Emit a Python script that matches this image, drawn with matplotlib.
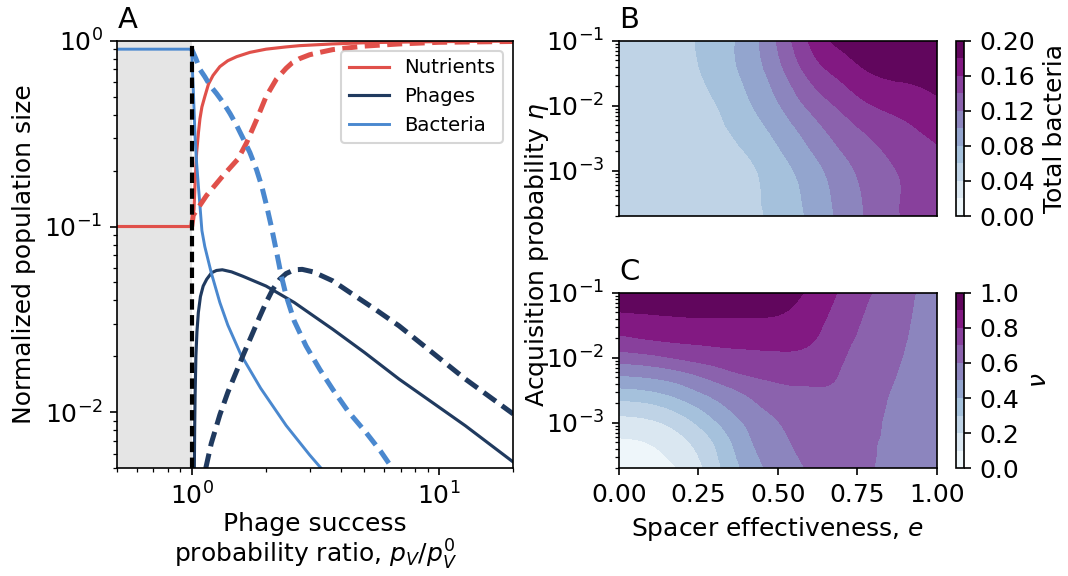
import matplotlib
matplotlib.use("Agg")
import matplotlib.pyplot as plt
import matplotlib.tri as mtri
import numpy as np

# Colores de las curvas
RED = "#e0504a"
NAVY = "#203a5f"
BLUE = "#4a88cf"

# Panel A: valores (x = p_V/p_V^0)
nutr_solid_x = [0.5, 1.0, 1.01, 1.022, 1.031, 1.047, 1.065, 1.08, 1.1, 1.13, 1.17, 1.22, 1.3, 1.4, 1.52,
                1.72, 2.0, 2.4, 2.73, 3.7, 5.07, 8, 12, 20]
nutr_solid_y = [0.1, 0.1, 0.11, 0.124, 0.166, 0.25, 0.32, 0.38, 0.44, 0.5, 0.585, 0.65, 0.725, 0.78, 0.82,
                0.865, 0.9, 0.925, 0.94, 0.96, 0.975, 0.985, 0.99, 0.995]
nutr_dash_x = [1.0, 1.015, 1.149, 1.34, 1.54, 1.665, 1.83, 2.0, 2.2, 2.41, 2.55, 2.73, 3.0, 3.3, 3.72, 5.0,
               6.9, 10, 20]
nutr_dash_y = [0.1, 0.115, 0.147, 0.188, 0.231, 0.281, 0.375, 0.5, 0.62, 0.71, 0.76, 0.80, 0.84, 0.865, 0.895,
               0.935, 0.96, 0.98, 0.99]

bact_solid_x = [0.5, 1.0, 1.005, 1.01, 1.015, 1.022, 1.031, 1.047, 1.064, 1.08, 1.1, 1.13, 1.2, 1.3, 1.4,
                1.58, 1.9, 2.41, 3.0, 3.34]
bact_solid_y = [0.9, 0.9, 0.75, 0.63, 0.55, 0.43, 0.31, 0.22, 0.166, 0.13, 0.095, 0.078, 0.0564, 0.039, 0.0295,
                0.0205, 0.0135, 0.0085, 0.0059, 0.005]
bact_dash_x = [1.0, 1.04, 1.08, 1.13, 1.185, 1.26, 1.34, 1.43, 1.52, 1.61, 1.72, 1.83, 1.92, 2.005, 2.1, 2.2,
               2.3, 2.41, 2.6, 2.9, 3.3, 3.72, 4.3, 5.07, 5.8, 6.48]
bact_dash_y = [0.9, 0.8, 0.70, 0.64, 0.575, 0.52, 0.465, 0.405, 0.35, 0.3, 0.25, 0.202, 0.165, 0.131, 0.1, 0.074,
               0.055, 0.0425, 0.031, 0.0228, 0.017, 0.0133, 0.0101, 0.0078, 0.0062, 0.005]

phage_solid_x = [1.025, 1.028, 1.032, 1.04, 1.05, 1.064, 1.085, 1.113, 1.15, 1.204, 1.26, 1.33, 1.45, 1.61,
                 2.0, 2.6, 3.72, 5, 6.9, 9.5, 12.8, 20]
phage_solid_y = [0.005, 0.008, 0.012, 0.02, 0.027, 0.0344, 0.042, 0.0478, 0.052, 0.0564, 0.058, 0.0585, 0.057,
                 0.054, 0.0478, 0.039, 0.028, 0.021, 0.0151, 0.0112, 0.00847, 0.0054]
phage_dash_x = [1.14, 1.2, 1.3, 1.4, 1.5, 1.62, 1.75, 1.88, 2.0, 2.13, 2.27, 2.41, 2.6, 2.8, 3.1, 3.72, 4.5,
                5.5, 6.9, 9, 12.8, 20]
phage_dash_y = [0.005, 0.0068, 0.0097, 0.0128, 0.016, 0.0205, 0.026, 0.0325, 0.039, 0.046, 0.052, 0.0558,
                0.0585, 0.0588, 0.057, 0.051, 0.043, 0.036, 0.0292, 0.022, 0.0151, 0.0098]

# Paneles B y C: rejilla (efectividad e, exponente de eta)
e_vals = [0.0, 0.1, 0.2, 0.3, 0.4, 0.5, 0.6, 0.7, 0.8, 0.9, 1.0]
b_log_eta = [-3.7, -3.5, -3.0, -2.5, -2.0, -1.5, -1.0]
b_total = [
    [0.042, 0.043, 0.046, 0.050, 0.054, 0.066, 0.083, 0.105, 0.1255, 0.142, 0.150],
    [0.042, 0.043, 0.046, 0.050, 0.055, 0.067, 0.0845, 0.1065, 0.126, 0.142, 0.150],
    [0.042, 0.044, 0.047, 0.051, 0.056, 0.071, 0.090, 0.112, 0.130, 0.143, 0.152],
    [0.043, 0.045, 0.049, 0.054, 0.065, 0.083, 0.105, 0.126, 0.141, 0.153, 0.162],
    [0.044, 0.047, 0.052, 0.059, 0.076, 0.098, 0.124, 0.144, 0.160, 0.167, 0.175],
    [0.045, 0.049, 0.054, 0.066, 0.0845, 0.112, 0.145, 0.166, 0.1805, 0.185, 0.190],
    [0.045, 0.050, 0.056, 0.068, 0.088, 0.122, 0.162, 0.186, 0.189, 0.193, 0.198],
]

c_log_eta = [-3.7, -3.5, -3.25, -3.0, -2.75, -2.5, -2.25, -2.0, -1.75, -1.5, -1.25, -1.0]
# columnas de nu para cada e (de arriba, eta=1e-1, hacia abajo)
c_nu_cols = [
    [0.97, 0.911, 0.846, 0.764, 0.647, 0.512, 0.381, 0.255, 0.165, 0.096, 0.055, 0.03],
    [0.975, 0.92, 0.859, 0.791, 0.672, 0.531, 0.404, 0.278, 0.183, 0.115, 0.08, 0.06],
    [0.975, 0.926, 0.870, 0.8075, 0.715, 0.578, 0.465, 0.355, 0.256, 0.187, 0.142, 0.115],
    [0.97, 0.926, 0.877, 0.819, 0.747, 0.647, 0.546, 0.462, 0.384, 0.316, 0.28, 0.26],
    [0.96, 0.923, 0.879, 0.827, 0.769, 0.705, 0.620, 0.561, 0.51, 0.478, 0.45, 0.428],
    [0.94, 0.913, 0.875, 0.828, 0.779, 0.726, 0.678, 0.634, 0.596, 0.576, 0.557, 0.541],
    [0.885, 0.859, 0.833, 0.807, 0.769, 0.726, 0.693, 0.676, 0.658, 0.640, 0.624, 0.61],
    [0.786, 0.766, 0.747, 0.727, 0.708, 0.695, 0.686, 0.677, 0.669, 0.660, 0.652, 0.645],
    [0.696, 0.68, 0.668, 0.658, 0.648, 0.638, 0.628, 0.620, 0.614, 0.609, 0.605, 0.603],
    [0.618, 0.612, 0.607, 0.602, 0.596, 0.590, 0.585, 0.581, 0.578, 0.575, 0.572, 0.570],
    [0.575, 0.573, 0.571, 0.569, 0.567, 0.565, 0.563, 0.561, 0.559, 0.557, 0.555, 0.553],
]

b_ticks = [0.0, 0.04, 0.08, 0.12, 0.16, 0.20]
c_ticks = [0.0, 0.2, 0.4, 0.6, 0.8, 1.0]


# Panel A: curvas de nutrientes, fagos y bacterias
def PlotPanelA(ax):
    ax.axvspan(0.5, 1.0, color="#e5e5e5", zorder=0, lw=0)

    ax.plot(nutr_solid_x, nutr_solid_y, color=RED, lw=1.5, label="Nutrients")
    ax.plot(phage_solid_x, phage_solid_y, color=NAVY, lw=1.5, label="Phages")
    ax.plot(bact_solid_x, bact_solid_y, color=BLUE, lw=1.4, label="Bacteria")

    dash = (0, (3, 1.5))
    ax.plot(nutr_dash_x, nutr_dash_y, color=RED, lw=2.4, ls=dash)
    ax.plot(phage_dash_x, phage_dash_y, color=NAVY, lw=2.4, ls=dash)
    ax.plot(bact_dash_x, bact_dash_y, color=BLUE, lw=2.4, ls=dash)

    ax.axvline(1.0, color="black", lw=2, ls=(0, (2.5, 1.3)), zorder=5)

    ax.set_xscale("log")
    ax.set_yscale("log")
    ax.set_xlim(0.5, 20)
    ax.set_ylim(5e-3, 1)
    ax.set_ylabel("Normalized population size", fontsize=12)
    ax.set_xlabel("Phage success\nprobability ratio, $p_V/p_V^0$", fontsize=12,
                  labelpad=1, linespacing=1.05)
    ax.tick_params(labelsize=12)
    ax.set_title("A", loc="left", fontsize=14)
    ax.legend(loc="upper right", fontsize=9.5)


# Dibuja un mapa de contornos con su barra de color
def PlotContour(ax, cax, log_eta, z, levels, ticks, fmt, label, title):
    ee, ll = np.meshgrid(e_vals, log_eta)
    tri = mtri.Triangulation(ee.ravel(), ll.ravel())
    refiner = mtri.UniformTriRefiner(tri)
    tri_f, z_f = refiner.refine_field(np.ravel(z), subdiv=3)
    z_f = np.clip(z_f, levels[0] + 1e-6, levels[-1] - 1e-6)
    tri_plot = mtri.Triangulation(tri_f.x, 10 ** tri_f.y, tri_f.triangles)

    cf = ax.tricontourf(tri_plot, z_f, levels=levels, cmap="BuPu")
    ax.set_yscale("log")
    ax.set_ylim(2e-4, 1e-1)
    ax.set_xlim(0, 1)
    ax.tick_params(labelsize=12)
    ax.set_title(title, loc="left", fontsize=14)
    cb = plt.gcf().colorbar(cf, cax=cax, ticks=ticks, format=fmt)
    cb.ax.tick_params(labelsize=12)
    cb.set_label(label, fontsize=12)
    return cf


fig = plt.figure(figsize=(7.12, 3.84), dpi=150)

axA = fig.add_axes([0.1098, 0.187, 0.3708, 0.7424])
PlotPanelA(axA)

axB = fig.add_axes([0.5796, 0.625, 0.2975, 0.3043])
caxB = fig.add_axes([0.8951, 0.625, 0.0078, 0.3043])
PlotContour(axB, caxB, b_log_eta, b_total, np.linspace(0, 0.2, 11), b_ticks, "%.2f", "Total bacteria", "B")
axB.tick_params(axis="x", bottom=False, labelbottom=False)

axC = fig.add_axes([0.5796, 0.187, 0.2975, 0.3049])
caxC = fig.add_axes([0.8951, 0.187, 0.0078, 0.3049])
c_nu = np.array(c_nu_cols).T[::-1]
PlotContour(axC, caxC, c_log_eta, c_nu, np.linspace(0, 1, 11), c_ticks, "%.1f", r"$\nu$", "C")
axC.set_xticks([0, 0.25, 0.5, 0.75, 1.0])
axC.set_xticklabels(["0.00", "0.25", "0.50", "0.75", "1.00"])
axC.set_xlabel("Spacer effectiveness, $e$", fontsize=12)

fig.text(0.503, 0.557, r"Acquisition probability $\eta$", rotation=90,
         ha="center", va="center", fontsize=12)

fig.savefig("out.png", dpi=150)
